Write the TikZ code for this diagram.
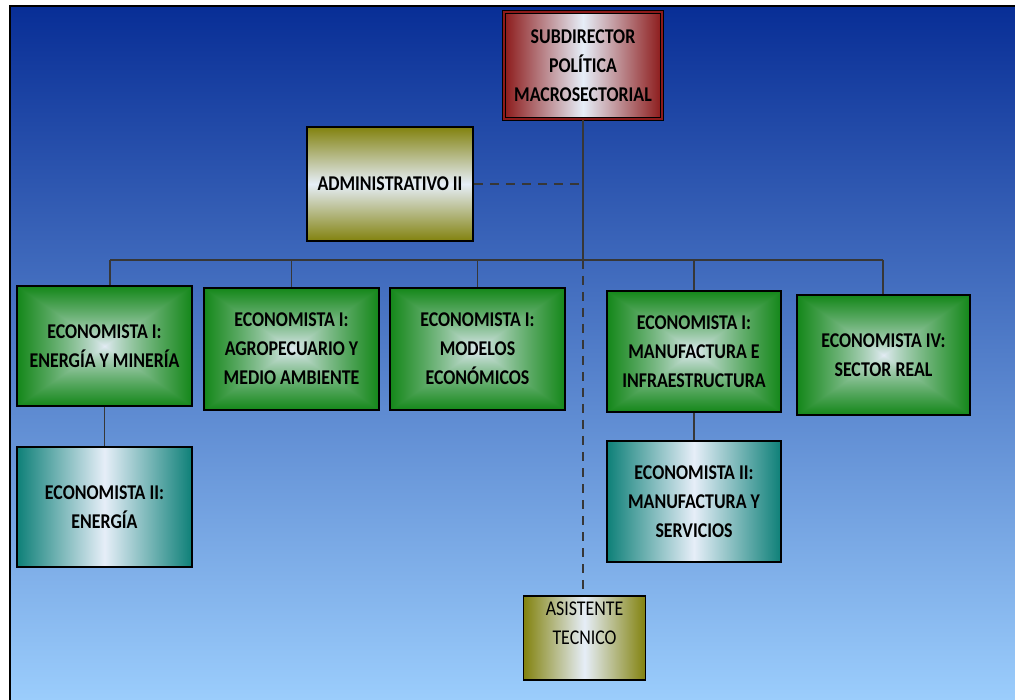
\documentclass[tikz,border=0pt]{standalone}
\usepackage{fontspec}
\setmainfont[FakeStretch=0.85]{Carlito}
\usetikzlibrary{positioning}

\definecolor{bgtop}{RGB}{8,46,150}
\definecolor{bgbot}{RGB}{155,205,252}
\definecolor{glow}{RGB}{230,238,248}
\definecolor{redbox}{RGB}{140,26,26}
\definecolor{olivebox}{RGB}{130,130,14}
\definecolor{tealbox}{RGB}{14,128,120}
\definecolor{wire}{RGB}{55,55,55}

% green boxes: light centre fading to green along rectangular contours
\pgfdeclarefunctionalshading{greenglow}{\pgfpoint{-50bp}{-50bp}}{\pgfpoint{50bp}{50bp}}{}{
  abs exch abs 2 copy lt {exch} if pop 25 div
  dup 1 gt {pop 1} if 0.8 exp
  dup dup
  -0.82 mul 0.90 add 3 1 roll
  -0.40 mul 0.93 add exch
  -0.87 mul 0.97 add
}

\tikzset{
  unit/.style={draw=black, line width=1.6pt, align=center,
    font=\fontsize{21}{29}\selectfont\bfseries, inner sep=2pt},
  hgrad/.style={unit, left color=#1, right color=#1, middle color=glow},
  vgrad/.style={unit, top color=#1, bottom color=#1, middle color=glow},
  greenunit/.style={unit, shading=greenglow},
  link/.style={draw=wire, line width=1.3pt},
  dotted link/.style={link, dash pattern=on 9pt off 7pt},
}

\begin{document}
\begin{tikzpicture}[x=1pt, y=-1pt]
  \useasboundingbox (0,0) rectangle (1015,700);
  \fill[white] (0,0) rectangle (1015,700);
  \shade[top color=bgtop, bottom color=bgbot] (10,6) rectangle (1015,700);
  \draw[black, line width=2.5pt] (10,700) -- (10,6) -- (1015,6);

  % top of the chart
  \node[hgrad=redbox, double=redbox, double distance=2pt, line width=1.2pt,
        minimum width=158pt, minimum height=107pt] (sub) at (583,65.5)
        {SUBDIRECTOR\\POLÍTICA\\MACROSECTORIAL};
  \node[vgrad=olivebox, minimum width=166pt, minimum height=114pt] (adm) at (390,184)
        {ADMINISTRATIVO II};

  % first level
  \node[greenunit, minimum width=175pt, minimum height=120pt] (e1) at (104.5,346)
        {ECONOMISTA I:\\ENERGÍA Y MINERÍA};
  \node[greenunit, minimum width=175pt, minimum height=122pt] (e2) at (291.5,349)
        {ECONOMISTA I:\\AGROPECUARIO Y\\MEDIO AMBIENTE};
  \node[greenunit, minimum width=175pt, minimum height=122pt] (e3) at (477.5,349)
        {ECONOMISTA I:\\MODELOS\\ECONÓMICOS};
  \node[greenunit, minimum width=174pt, minimum height=121pt] (e4) at (694,351.5)
        {ECONOMISTA I:\\MANUFACTURA E\\INFRAESTRUCTURA};
  \node[greenunit, minimum width=173pt, minimum height=120pt] (e5) at (883.5,355)
        {ECONOMISTA IV:\\SECTOR REAL};

  % second level
  \node[hgrad=tealbox, minimum width=175pt, minimum height=120pt] (en2) at (104.5,507)
        {ECONOMISTA II:\\ENERGÍA};
  \node[hgrad=tealbox, minimum width=174pt, minimum height=121pt] (ms2) at (694,501.5)
        {ECONOMISTA II:\\MANUFACTURA Y\\SERVICIOS};
  \node[hgrad=olivebox, font=\fontsize{21}{29}\selectfont\mdseries,
        minimum width=122pt, minimum height=84pt] (asis) at (584.5,638)
        {ASISTENTE\\TECNICO\\\mbox{}};

  % connectors
  \coordinate (busL) at (110,260);
  \coordinate (busR) at (883,260);
  \draw[link] (busL) -- (busR);
  \draw[link] (sub.south) -- (sub.south |- busL);
  \draw[link] (busL) -- (busL |- e1.north);
  \draw[link] (e2.north |- busL) -- (e2.north);
  \draw[link] (e3.north |- busL) -- (e3.north);
  \draw[link] (e4.north |- busL) -- (e4.north);
  \draw[link] (busR) -- (busR |- e5.north);
  \draw[link] (e1.south) -- (en2.north);
  \draw[link] (e4.south) -- (ms2.north);
  \draw[dotted link] (adm.east) -- (sub.south |- adm.east);
  \draw[dotted link] (sub.south |- busL) -- (sub.south |- asis.north);
\end{tikzpicture}
\end{document}
